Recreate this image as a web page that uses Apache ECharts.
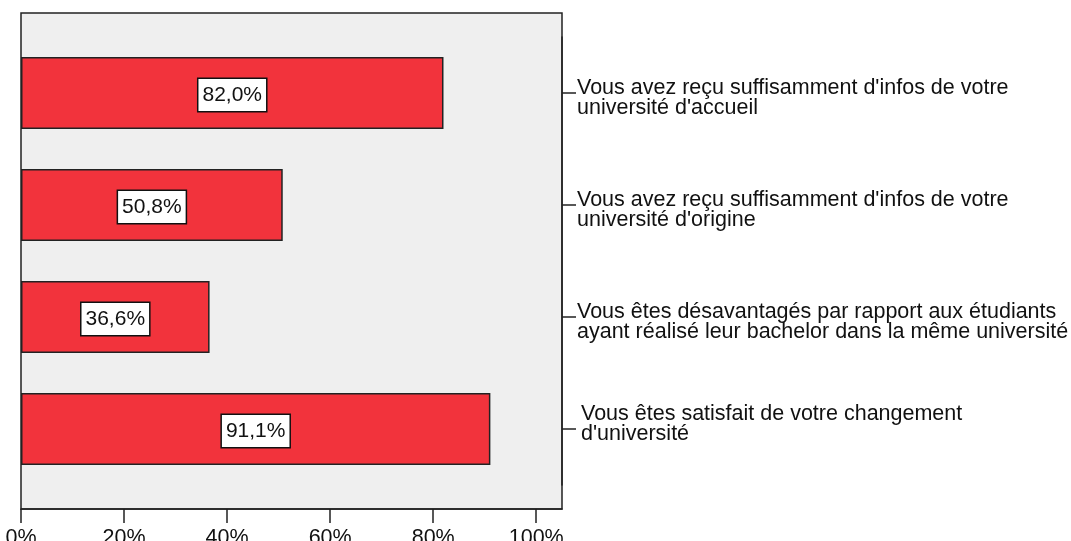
<!DOCTYPE html>
<html>
<head>
<meta charset="utf-8">
<script src="https://cdn.jsdelivr.net/npm/echarts@6/dist/echarts.min.js"></script>
<style>
  html, body { margin: 0; padding: 0; background: #fff; }
  #chart { width: 1071px; height: 541px; }
</style>
</head>
<body>
<div id="chart"></div>
<script>
// data
var categories = [
  "Vous avez reçu suffisamment d'infos de votre\nuniversité d'accueil",
  "Vous avez reçu suffisamment d'infos de votre\nuniversité d'origine",
  "Vous êtes désavantagés par rapport aux étudiants\nayant réalisé leur bachelor dans la même université",
  "Vous êtes satisfait de votre changement\nd'université"
]
var values = [82.0, 50.8, 36.6, 91.1]
var xTicks = [0, 20, 40, 60, 80, 100]

var font = '"Liberation Sans", Arial, Helvetica, sans-serif'
var chart = echarts.init(document.getElementById('chart'))

chart.setOption({
  animation: false,
  textStyle: { fontFamily: font },
  grid: [
    // frame + x axis
    { left: 21, right: 509, top: 13, bottom: 32, show: true, outerBoundsMode: 'none',
      backgroundColor: '#efefef', borderColor: '#222', borderWidth: 1.5 },
    // bars
    { left: 21, right: 509, top: 37, bottom: 56, outerBoundsMode: 'none' }
  ],
  xAxis: [
    {
      gridIndex: 0,
      type: 'value',
      min: 0,
      max: 105,
      splitLine: { show: false },
      axisLine: { show: true, lineStyle: { color: '#222', width: 1.5 } },
      axisTick: {
        show: true,
        length: 14,
        customValues: xTicks,
        lineStyle: { color: '#222', width: 1.5 }
      },
      axisLabel: {
        customValues: xTicks,
        formatter: '{value}%',
        fontSize: 21.5,
        color: '#111',
        margin: 18,
        fontFamily: font
      }
    },
    {
      gridIndex: 1,
      type: 'value',
      min: 0,
      max: 105,
      show: false
    }
  ],
  yAxis: [
    {
      gridIndex: 0,
      type: 'value',
      show: false
    },
    {
      gridIndex: 1,
      type: 'category',
      data: categories,
      inverse: true,
      position: 'right',
      axisLine: { show: true, onZero: false, lineStyle: { color: '#222', width: 1.5 } },
      axisTick: {
        show: true,
        alignWithLabel: true,
        length: 14,
        lineStyle: { color: '#222', width: 1.5 }
      },
      axisLabel: {
        margin: 15,
        fontSize: 21.5,
        lineHeight: 20,
        padding: [11, 0, 0, 0],
        color: '#111',
        align: 'left',
        fontFamily: font,
        formatter: function (value, index) {
          // last label sits a little higher and further right in the original
          if (index === 3) {
            var lines = value.split('\n')
            return '{ind|' + lines[0] + '}\n{ind|' + lines[1] + '}\n '
          }
          return value
        },
        rich: {
          ind: {
            fontSize: 21.5,
            lineHeight: 20,
            color: '#111',
            fontFamily: font,
            padding: [0, 0, 0, 4]
          }
        }
      }
    }
  ],
  series: [{
    type: 'bar',
    xAxisIndex: 1,
    yAxisIndex: 1,
    data: values,
    barWidth: 72,
    itemStyle: {
      color: '#f2333c',
      borderColor: '#222',
      borderWidth: 1.5
    },
    label: {
      show: true,
      position: 'inside',
      offset: [0, 2],
      formatter: function (p) {
        return p.value.toFixed(1).replace('.', ',') + '%'
      },
      fontSize: 21,
      color: '#111',
      fontFamily: font,
      backgroundColor: '#fff',
      borderColor: '#111',
      borderWidth: 1.5,
      padding: [5, 4, 6, 4]
    }
  }]
})
</script>
</body>
</html>
